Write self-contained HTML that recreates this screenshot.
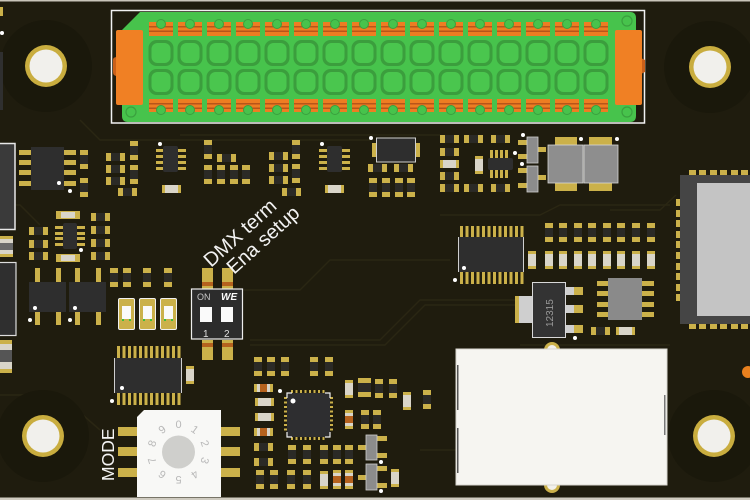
<!DOCTYPE html>
<html><head><meta charset="utf-8"><style>
html,body{margin:0;padding:0;background:#1f1c0e;width:750px;height:500px;overflow:hidden}
svg{display:block}
text{font-family:"Liberation Sans",sans-serif}
</style></head><body>
<svg width="750" height="500" viewBox="0 0 750 500" xmlns="http://www.w3.org/2000/svg">
<defs>
<g id="rh"><rect width="19" height="8" fill="#cbb14a"/><rect x="5" width="9" height="8" fill="#2b2a26"/></g>
<g id="rv"><rect width="8" height="19" fill="#cbb14a"/><rect y="5" width="8" height="9" fill="#2b2a26"/></g>
<g id="ch"><rect width="19" height="8" fill="#cbb14a"/><rect x="3" width="13" height="8" fill="#d9d5c9"/></g>
<g id="cv"><rect width="8" height="18" fill="#cbb14a"/><rect y="3" width="8" height="12" fill="#d9d5c9"/></g>
<g id="bh"><rect width="19" height="8" fill="#cbb14a"/><rect x="3" width="13" height="8" fill="#d9d5c9"/><rect x="6" width="7" height="8" fill="#b5621e"/></g>
<g id="bv"><rect width="8" height="19" fill="#cbb14a"/><rect y="3" width="8" height="13" fill="#d9d5c9"/><rect y="6" width="8" height="7" fill="#b5621e"/></g>
<g id="col">
<rect x="-12" y="22" width="24" height="14" fill="#ee7d22"/>
<rect x="-12" y="26" width="24" height="1.5" fill="#b8551a"/>
<rect x="-12" y="30.5" width="24" height="1.5" fill="#b8551a"/>
<circle cx="0" cy="24" r="4.5" fill="#47c34c" stroke="#3aa03e" stroke-width="1"/>
<rect x="-12.5" y="40" width="25" height="26" rx="8" fill="#3b9e3d"/>
<rect x="-9.5" y="43" width="19" height="20" rx="6" fill="#4ac64e"/>
<rect x="-12.5" y="69" width="25" height="26" rx="8" fill="#3b9e3d"/>
<rect x="-9.5" y="72" width="19" height="20" rx="6" fill="#4ac64e"/>
<rect x="-12" y="99" width="24" height="13" fill="#ee7d22"/>
<rect x="-12" y="103" width="24" height="1.5" fill="#b8551a"/>
<rect x="-12" y="107.5" width="24" height="1.5" fill="#b8551a"/>
<circle cx="0" cy="110" r="4.5" fill="#47c34c" stroke="#3aa03e" stroke-width="1"/>
</g>
<g id="hole">
<circle r="46" fill="#1a180b"/>
<circle r="21" fill="#c9ad3f"/>
<circle r="16.5" fill="#f1f0ec"/>
</g>
</defs>

<rect width="750" height="500" fill="#1f1c0e"/>

<!-- faint traces -->
<g fill="none" stroke="#2a2613" stroke-width="1.5">
<polyline points="0,205 20,205 40,225"/>
<polyline points="180,135 440,135"/>
<polyline points="250,340 380,340 420,300 520,300"/>
<polyline points="250,345 385,345 425,305 515,305"/>
<polyline points="0,395 60,395 100,430"/>
<polyline points="420,450 456,450"/>
<polyline points="610,210 660,210 676,195"/>
<polyline points="440,215 540,215 560,205 670,205"/>
<polyline points="240,290 300,290 330,260 450,260"/>
<polyline points="80,120 100,140 370,140"/>
<polyline points="520,345 670,345"/>
</g>

<rect width="750" height="1.5" fill="#c9c5ba"/>
<rect y="497.5" width="750" height="2.5" fill="#cfcbc0"/>

<!-- mounting holes -->
<use href="#hole" x="46" y="66"/>
<use href="#hole" x="710" y="67"/>
<use href="#hole" x="43" y="436"/>
<use href="#hole" x="714" y="436"/>

<!-- connector -->
<rect x="111.5" y="10.5" width="533" height="112.5" fill="none" stroke="#f2f2f2" stroke-width="1.5"/>
<path d="M140,12 L630,12 Q636,12 636,18 L636,116 Q636,122 630,122 L128,122 Q122,122 122,116 L122,30 Z" fill="#47c34c"/>
<circle cx="131" cy="112" r="5" fill="none" stroke="#3aa03e" stroke-width="1.2"/>
<circle cx="627" cy="21" r="5" fill="none" stroke="#3aa03e" stroke-width="1.2"/>
<circle cx="627" cy="112" r="5" fill="none" stroke="#3aa03e" stroke-width="1.2"/>
<path d="M113,60 Q113,57 117,57 L117,76 Q113,76 113,72 Z" fill="#c9601a"/>
<rect x="116" y="30" width="27" height="75" rx="2" fill="#f08024"/>
<path d="M641,58 L645,60 L645,72 L641,74 Z" fill="#c9601a"/>
<rect x="615" y="30" width="27" height="75" rx="2" fill="#f08024"/>
<use href="#col" x="161"/><use href="#col" x="190"/><use href="#col" x="219"/><use href="#col" x="248"/>
<use href="#col" x="277"/><use href="#col" x="306"/><use href="#col" x="335"/><use href="#col" x="364"/>
<use href="#col" x="393"/><use href="#col" x="422"/><use href="#col" x="451"/><use href="#col" x="480"/>
<use href="#col" x="509"/><use href="#col" x="538"/><use href="#col" x="567"/><use href="#col" x="596"/>

<!-- left edge parts -->
<rect x="0" y="7" width="3" height="9" fill="#cbb14a"/>
<circle cx="2" cy="33" r="2" fill="#fff"/>
<rect x="0" y="52" width="3" height="58" fill="#2f2f2f"/>
<rect x="-2" y="143.5" width="17" height="86" fill="#3a3a3a" stroke="#e8e8e8" stroke-width="1.5"/>
<rect x="0" y="236" width="13" height="21" fill="#cbb14a"/><rect x="0" y="239" width="13" height="15" fill="#d9d5c9"/><rect x="0" y="243" width="13" height="7" fill="#6a6a6a"/>
<rect x="-2" y="262.5" width="18" height="73" fill="#2f2f2f" stroke="#dddddd" stroke-width="1.2"/>
<rect x="0" y="340" width="12" height="33" fill="#cbb14a"/><rect x="0" y="344" width="12" height="25" fill="#d9d5c9"/><rect x="0" y="350" width="12" height="12" fill="#555"/>

<!-- SOIC8 left -->
<g fill="#cbb14a">
<rect x="19" y="150" width="12" height="5"/><rect x="19" y="160" width="12" height="5"/><rect x="19" y="170" width="12" height="5"/><rect x="19" y="181" width="12" height="5"/>
<rect x="63" y="150" width="13" height="5"/><rect x="63" y="160" width="13" height="5"/><rect x="63" y="170" width="13" height="5"/><rect x="63" y="181" width="13" height="5"/>
</g>
<rect x="31" y="147" width="33" height="43" fill="#2e2e2e"/>
<circle cx="59" cy="183" r="2" fill="#fff"/><circle cx="70" cy="191" r="2" fill="#fff"/>
<use href="#rv" x="80" y="150"/><use href="#rv" x="80" y="178"/>
<use href="#rh" x="106" y="153"/><use href="#rh" x="106" y="165"/><use href="#rh" x="106" y="177"/>
<use href="#rv" x="130" y="141"/><use href="#rv" x="130" y="165"/>
<use href="#rh" x="118" y="188"/>

<!-- small IC 1 -->
<g fill="#cbb14a">
<rect x="156" y="149" width="7" height="3"/><rect x="156" y="155" width="7" height="3"/><rect x="156" y="161" width="7" height="3"/><rect x="156" y="167" width="7" height="3"/>
<rect x="178" y="149" width="8" height="3"/><rect x="178" y="155" width="8" height="3"/><rect x="178" y="161" width="8" height="3"/><rect x="178" y="167" width="8" height="3"/>
</g>
<rect x="163" y="146" width="15" height="26" rx="2" fill="#2e2e2e"/>
<circle cx="160" cy="144" r="2" fill="#fff"/>
<use href="#ch" x="162" y="185"/>

<use href="#rv" x="204" y="140"/>
<use href="#rh" x="217" y="154"/>
<use href="#rv" x="204" y="165"/><use href="#rv" x="217" y="165"/><use href="#rv" x="230" y="165"/><use href="#rv" x="242" y="165"/>

<use href="#rh" x="269" y="152"/><use href="#rh" x="269" y="164"/><use href="#rh" x="269" y="176"/>
<use href="#rv" x="292" y="140"/><use href="#rv" x="292" y="164"/>
<use href="#rh" x="282" y="188"/>

<!-- small IC 2 -->
<g fill="#cbb14a">
<rect x="319" y="149" width="8" height="3"/><rect x="319" y="155" width="8" height="3"/><rect x="319" y="161" width="8" height="3"/><rect x="319" y="167" width="8" height="3"/>
<rect x="341" y="149" width="9" height="3"/><rect x="341" y="155" width="9" height="3"/><rect x="341" y="161" width="9" height="3"/><rect x="341" y="167" width="9" height="3"/>
</g>
<rect x="327" y="146" width="15" height="26" rx="2" fill="#2e2e2e"/>
<circle cx="322" cy="144" r="2" fill="#fff"/>
<use href="#ch" x="325" y="185"/>

<!-- right-of-center top group -->
<rect x="372" y="143" width="6" height="14" fill="#cbb14a"/><rect x="414" y="143" width="6" height="14" fill="#cbb14a"/>
<rect x="376.5" y="138" width="39" height="24" fill="#2e2e2e" stroke="#cfcfcf" stroke-width="1"/>
<circle cx="371" cy="138" r="2" fill="#fff"/>
<use href="#rh" x="368" y="164"/><use href="#rh" x="394" y="164"/>
<use href="#rv" x="369" y="178"/><use href="#rv" x="382" y="178"/><use href="#rv" x="395" y="178"/><use href="#rv" x="407" y="178"/>

<use href="#rh" x="440" y="135"/><use href="#rh" x="464" y="135"/><use href="#rh" x="491" y="135"/>
<use href="#rh" x="440" y="148"/>
<use href="#ch" x="440" y="160"/>
<use href="#rh" x="440" y="172"/>
<use href="#rh" x="440" y="184"/><use href="#rh" x="464" y="184"/><use href="#rh" x="491" y="184"/>
<use href="#cv" x="475" y="156"/>
<g fill="#cbb14a">
<rect x="490" y="150" width="3" height="8"/><rect x="495" y="150" width="3" height="8"/><rect x="500" y="150" width="3" height="8"/><rect x="505" y="150" width="3" height="8"/>
<rect x="490" y="170" width="3" height="8"/><rect x="495" y="170" width="3" height="8"/><rect x="500" y="170" width="3" height="8"/><rect x="505" y="170" width="3" height="8"/>
</g>
<rect x="488" y="158" width="25" height="12" rx="2" fill="#2e2e2e"/>
<circle cx="515" cy="153" r="2" fill="#fff"/>

<!-- SOT-23 gray -->
<g fill="#cbb14a">
<rect x="518" y="140" width="10" height="5"/><rect x="518" y="154" width="10" height="5"/><rect x="537" y="147" width="9" height="5"/>
<rect x="518" y="168" width="10" height="5"/><rect x="518" y="183" width="10" height="5"/><rect x="537" y="175" width="9" height="5"/>
</g>
<rect x="527" y="137" width="11" height="26" fill="#8c8c8c" stroke="#cfcfcf" stroke-width="0.8"/>
<rect x="527" y="166" width="11" height="26" fill="#8c8c8c" stroke="#cfcfcf" stroke-width="0.8"/>
<circle cx="523" cy="135" r="2" fill="#fff"/><circle cx="522" cy="164" r="2" fill="#fff"/>

<!-- inductors -->
<g fill="#cbb14a">
<rect x="555" y="137" width="22" height="9"/><rect x="555" y="182" width="22" height="9"/>
<rect x="589" y="137" width="23" height="9"/><rect x="589" y="182" width="23" height="9"/>
</g>
<rect x="548" y="145" width="35" height="38" fill="#8e8e8e" stroke="#d8d8d8" stroke-width="0.8"/>
<rect x="584" y="145" width="34" height="38" fill="#8e8e8e" stroke="#d8d8d8" stroke-width="0.8"/>
<circle cx="581" cy="139" r="2" fill="#fff"/><circle cx="617" cy="139" r="2" fill="#fff"/>

<!-- module -->
<g fill="#cbb14a">
<rect x="689" y="170" width="7" height="5"/><rect x="699" y="170" width="7" height="5"/><rect x="710" y="170" width="7" height="5"/><rect x="720" y="170" width="7" height="5"/><rect x="731" y="170" width="7" height="5"/><rect x="741" y="170" width="7" height="5"/>
<rect x="689" y="324" width="7" height="5"/><rect x="699" y="324" width="7" height="5"/><rect x="710" y="324" width="7" height="5"/><rect x="720" y="324" width="7" height="5"/><rect x="731" y="324" width="7" height="5"/><rect x="741" y="324" width="7" height="5"/>
<rect x="676" y="199" width="5" height="7"/><rect x="676" y="210" width="5" height="7"/><rect x="676" y="220" width="5" height="7"/><rect x="676" y="231" width="5" height="7"/><rect x="676" y="241" width="5" height="7"/>
<rect x="676" y="252" width="5" height="7"/><rect x="676" y="263" width="5" height="7"/><rect x="676" y="273" width="5" height="7"/><rect x="676" y="284" width="5" height="7"/><rect x="676" y="294" width="5" height="7"/>
</g>
<rect x="680" y="175" width="72" height="149" fill="#454545"/>
<rect x="697" y="183" width="55" height="133" fill="#c4c4c4"/>
<use href="#rv" x="647" y="223"/>
<use href="#cv" x="647" y="251"/>

<!-- right TSSOP -->
<g fill="#cbb14a">
<rect x="460" y="226" width="3" height="12"/><rect x="465.5" y="226" width="3" height="12"/><rect x="471" y="226" width="3" height="12"/><rect x="476.5" y="226" width="3" height="12"/><rect x="482" y="226" width="3" height="12"/><rect x="487.5" y="226" width="3" height="12"/>
<rect x="493" y="226" width="3" height="12"/><rect x="498.5" y="226" width="3" height="12"/><rect x="504" y="226" width="3" height="12"/><rect x="509.5" y="226" width="3" height="12"/><rect x="515" y="226" width="3" height="12"/><rect x="520.5" y="226" width="3" height="12"/>
<rect x="460" y="272" width="3" height="12"/><rect x="465.5" y="272" width="3" height="12"/><rect x="471" y="272" width="3" height="12"/><rect x="476.5" y="272" width="3" height="12"/><rect x="482" y="272" width="3" height="12"/><rect x="487.5" y="272" width="3" height="12"/>
<rect x="493" y="272" width="3" height="12"/><rect x="498.5" y="272" width="3" height="12"/><rect x="504" y="272" width="3" height="12"/><rect x="509.5" y="272" width="3" height="12"/><rect x="515" y="272" width="3" height="12"/><rect x="520.5" y="272" width="3" height="12"/>
</g>
<rect x="458" y="237" width="66" height="35" fill="#2e2e2e"/>
<rect x="458" y="237" width="1" height="35" fill="#cfcfcf"/><rect x="523" y="237" width="1" height="35" fill="#cfcfcf"/>
<circle cx="464" cy="268" r="2" fill="#fff"/><circle cx="455" cy="280" r="2" fill="#fff"/>
<use href="#cv" x="528" y="251"/>
<use href="#rv" x="545" y="223"/><use href="#rv" x="559" y="223"/><use href="#rv" x="574" y="223"/><use href="#rv" x="588" y="223"/><use href="#rv" x="603" y="223"/><use href="#rv" x="617" y="223"/><use href="#rv" x="632" y="223"/>
<use href="#cv" x="545" y="251"/><use href="#cv" x="559" y="251"/><use href="#cv" x="574" y="251"/><use href="#cv" x="588" y="251"/><use href="#cv" x="603" y="251"/><use href="#cv" x="617" y="251"/><use href="#cv" x="632" y="251"/>

<!-- SOT-223 -->
<rect x="515" y="296" width="19" height="27" fill="#cbb14a"/><rect x="519" y="296" width="14" height="27" fill="#cfcfcf"/>
<g fill="#cbb14a"><rect x="563" y="287" width="20" height="8"/><rect x="563" y="305" width="20" height="8"/><rect x="563" y="325" width="20" height="8"/></g>
<g fill="#cfcfcf"><rect x="563" y="287" width="11" height="8"/><rect x="563" y="305" width="11" height="8"/><rect x="563" y="325" width="11" height="8"/></g>
<rect x="532.5" y="282.5" width="33" height="55" fill="#333" stroke="#d8d8d8" stroke-width="1"/>
<text transform="translate(553,327) rotate(-90)" font-size="10" fill="#9a9a9a">12315</text>
<circle cx="575" cy="338" r="2" fill="#fff"/>

<!-- SOIC8 gray -->
<g fill="#cbb14a">
<rect x="597" y="281" width="13" height="5"/><rect x="597" y="291" width="13" height="5"/><rect x="597" y="302" width="13" height="5"/><rect x="597" y="312" width="13" height="5"/>
<rect x="641" y="281" width="13" height="5"/><rect x="641" y="291" width="13" height="5"/><rect x="641" y="302" width="13" height="5"/><rect x="641" y="312" width="13" height="5"/>
</g>
<rect x="608" y="278" width="34" height="42" fill="#8a8a8a"/>
<use href="#rh" x="591" y="327"/><use href="#ch" x="616" y="327"/>

<!-- shield box -->
<circle cx="552" cy="350" r="8" fill="#cbb14a"/><circle cx="552" cy="350" r="5" fill="#f1f0ec"/>
<circle cx="552" cy="485" r="8" fill="#cbb14a"/><circle cx="552" cy="485" r="5" fill="#f1f0ec"/>
<rect x="456" y="349" width="211" height="136" fill="#f6f5f1" stroke="#d8d6d0" stroke-width="1"/>
<rect x="457" y="365" width="1.5" height="45" fill="#555"/><rect x="457" y="428" width="1.5" height="45" fill="#555"/>
<rect x="664" y="395" width="1.5" height="40" fill="#777"/>
<circle cx="748" cy="372" r="6" fill="#e8801e"/>

<!-- lower-left ICs -->
<g fill="#cbb14a">
<rect x="56" y="211" width="24" height="8"/><rect x="56" y="254" width="24" height="8"/>
</g>
<rect x="61" y="212" width="14" height="6" fill="#d9d5c9"/><rect x="61" y="255" width="14" height="6" fill="#d9d5c9"/>
<g fill="#cbb14a">
<rect x="55" y="226" width="8" height="3"/><rect x="55" y="232" width="8" height="3"/><rect x="55" y="237" width="8" height="3"/><rect x="55" y="243" width="8" height="3"/>
<rect x="77" y="226" width="8" height="3"/><rect x="77" y="232" width="8" height="3"/><rect x="77" y="237" width="8" height="3"/><rect x="77" y="243" width="8" height="3"/>
</g>
<rect x="63" y="223" width="14" height="26" rx="2" fill="#2e2e2e"/>
<circle cx="81" cy="250" r="2" fill="#fff"/>
<use href="#rh" x="29" y="227"/><use href="#rh" x="29" y="240"/><use href="#rh" x="29" y="252"/>
<use href="#rh" x="91" y="213"/><use href="#rh" x="91" y="226"/><use href="#rh" x="91" y="239"/><use href="#rh" x="91" y="252"/>

<g fill="#cbb14a">
<rect x="35" y="268" width="5" height="14"/><rect x="56" y="268" width="5" height="14"/><rect x="35" y="312" width="5" height="13"/><rect x="56" y="312" width="5" height="13"/>
<rect x="75" y="268" width="5" height="14"/><rect x="96" y="268" width="5" height="14"/><rect x="75" y="312" width="5" height="13"/><rect x="96" y="312" width="5" height="13"/>
</g>
<rect x="29" y="282" width="37" height="30" fill="#2e2e2e"/>
<rect x="69" y="282" width="37" height="30" fill="#2e2e2e"/>
<circle cx="35" cy="308" r="2" fill="#fff"/><circle cx="30" cy="320" r="2" fill="#fff"/>
<circle cx="75" cy="308" r="2" fill="#fff"/><circle cx="70" cy="320" r="2" fill="#fff"/>
<use href="#rv" x="110" y="268"/><use href="#rv" x="123" y="268"/><use href="#rv" x="143" y="268"/><use href="#rv" x="164" y="268"/>

<!-- LEDs -->
<g>
<rect x="118.5" y="298.5" width="16" height="31" rx="1.5" fill="#cbb14a" stroke="#f0f0f0" stroke-width="1"/>
<rect x="122" y="306" width="9" height="13" fill="#fafafa"/>
<rect x="139.5" y="298.5" width="16" height="31" rx="1.5" fill="#cbb14a" stroke="#f0f0f0" stroke-width="1"/>
<rect x="143" y="306" width="9" height="13" fill="#fafafa"/>
<rect x="160.5" y="298.5" width="16" height="31" rx="1.5" fill="#cbb14a" stroke="#f0f0f0" stroke-width="1"/>
<rect x="164" y="306" width="9" height="13" fill="#fafafa"/>
<g fill="#3bbf3b"><rect x="122" y="319" width="2" height="2"/><rect x="129" y="319" width="2" height="2"/><rect x="143" y="319" width="2" height="2"/><rect x="150" y="319" width="2" height="2"/><rect x="164" y="319" width="2" height="2"/><rect x="171" y="319" width="2" height="2"/></g>
</g>

<!-- DIP switch -->
<g fill="#cbb14a">
<rect x="202" y="268" width="11" height="21"/><rect x="222" y="268" width="11" height="21"/>
<rect x="202" y="340" width="11" height="20"/><rect x="222" y="340" width="11" height="20"/>
</g>
<g fill="#b5621e"><rect x="202" y="282" width="11" height="4"/><rect x="222" y="282" width="11" height="4"/><rect x="202" y="343" width="11" height="4"/><rect x="222" y="343" width="11" height="4"/></g>
<rect x="191.5" y="289" width="51" height="50" fill="#2c2c2c" stroke="#eeeeee" stroke-width="1.2"/>
<text x="197" y="300" font-size="9" fill="#c8c8c8">ON</text>
<text x="221" y="300" font-size="10" font-weight="bold" font-style="italic" fill="#fafafa">WE</text>
<rect x="200" y="307" width="12" height="15" fill="#fafafa"/>
<rect x="221" y="307" width="12" height="15" fill="#fafafa"/>
<text x="203" y="337" font-size="10" fill="#e0e0e0">1</text>
<text x="224" y="337" font-size="10" fill="#e0e0e0">2</text>

<text transform="translate(211,268) rotate(-42)" font-size="20" fill="#f2f2f2">DMX term</text>
<text transform="translate(234,275) rotate(-42)" font-size="20" fill="#f2f2f2">Ena setup</text>

<!-- TSSOP left -->
<g fill="#cbb14a">
<rect x="117" y="346" width="3" height="12"/><rect x="122.5" y="346" width="3" height="12"/><rect x="128" y="346" width="3" height="12"/><rect x="133.5" y="346" width="3" height="12"/><rect x="139" y="346" width="3" height="12"/><rect x="144.5" y="346" width="3" height="12"/>
<rect x="150" y="346" width="3" height="12"/><rect x="155.5" y="346" width="3" height="12"/><rect x="161" y="346" width="3" height="12"/><rect x="166.5" y="346" width="3" height="12"/><rect x="172" y="346" width="3" height="12"/><rect x="177.5" y="346" width="3" height="12"/>
<rect x="117" y="393" width="3" height="12"/><rect x="122.5" y="393" width="3" height="12"/><rect x="128" y="393" width="3" height="12"/><rect x="133.5" y="393" width="3" height="12"/><rect x="139" y="393" width="3" height="12"/><rect x="144.5" y="393" width="3" height="12"/>
<rect x="150" y="393" width="3" height="12"/><rect x="155.5" y="393" width="3" height="12"/><rect x="161" y="393" width="3" height="12"/><rect x="166.5" y="393" width="3" height="12"/><rect x="172" y="393" width="3" height="12"/><rect x="177.5" y="393" width="3" height="12"/>
</g>
<rect x="114" y="358" width="68" height="35" fill="#2e2e2e"/>
<rect x="114" y="358" width="1" height="35" fill="#cfcfcf"/><rect x="181" y="358" width="1" height="35" fill="#cfcfcf"/>
<circle cx="122" cy="388" r="2" fill="#fff"/><circle cx="112" cy="401" r="2" fill="#fff"/>
<use href="#cv" x="186" y="366"/>

<!-- rotary switch -->
<g fill="#cbb14a">
<rect x="118" y="427" width="20" height="9"/><rect x="118" y="447" width="20" height="9"/><rect x="118" y="468" width="20" height="9"/>
<rect x="221" y="427" width="19" height="9"/><rect x="221" y="447" width="19" height="9"/><rect x="221" y="468" width="19" height="9"/>
</g>
<path d="M144,410 L221,410 L221,497 L137,497 L137,417 Z" fill="#f8f8f6"/>
<circle cx="178.5" cy="452" r="16.5" fill="#cfcfcc"/>
<g font-size="11" fill="#b8b8b8" text-anchor="middle">
<text x="178.5" y="428" transform="rotate(0,178.5,452)">0</text>
<text x="178.5" y="428" transform="rotate(36,178.5,452)">1</text>
<text x="178.5" y="428" transform="rotate(72,178.5,452)">2</text>
<text x="178.5" y="428" transform="rotate(108,178.5,452)">3</text>
<text x="178.5" y="428" transform="rotate(144,178.5,452)">4</text>
<text x="178.5" y="428" transform="rotate(180,178.5,452)">5</text>
<text x="178.5" y="428" transform="rotate(216,178.5,452)">6</text>
<text x="178.5" y="428" transform="rotate(252,178.5,452)">7</text>
<text x="178.5" y="428" transform="rotate(288,178.5,452)">8</text>
<text x="178.5" y="428" transform="rotate(324,178.5,452)">9</text>
</g>
<text transform="translate(114,481) rotate(-90)" font-size="17.5" fill="#f4f4f4">MODE</text>

<!-- QFN area -->
<use href="#rv" x="254" y="357"/><use href="#rv" x="267" y="357"/><use href="#rv" x="281" y="357"/><use href="#rv" x="310" y="357"/><use href="#rv" x="325" y="357"/>
<use href="#bh" x="254" y="384"/>
<use href="#ch" x="255" y="398"/><use href="#ch" x="255" y="413"/>
<use href="#bh" x="254" y="428"/>
<use href="#rh" x="254" y="443"/><use href="#rh" x="254" y="458"/>
<g fill="#cbb14a">
<rect x="291" y="390" width="2" height="3"/><rect x="295.5" y="390" width="2" height="3"/><rect x="300" y="390" width="2" height="3"/><rect x="304.5" y="390" width="2" height="3"/><rect x="309" y="390" width="2" height="3"/><rect x="313.5" y="390" width="2" height="3"/><rect x="318" y="390" width="2" height="3"/><rect x="322.5" y="390" width="2" height="3"/>
<rect x="291" y="437" width="2" height="3"/><rect x="295.5" y="437" width="2" height="3"/><rect x="300" y="437" width="2" height="3"/><rect x="304.5" y="437" width="2" height="3"/><rect x="309" y="437" width="2" height="3"/><rect x="313.5" y="437" width="2" height="3"/><rect x="318" y="437" width="2" height="3"/><rect x="322.5" y="437" width="2" height="3"/>
<rect x="284" y="397" width="3" height="2"/><rect x="284" y="401.5" width="3" height="2"/><rect x="284" y="406" width="3" height="2"/><rect x="284" y="410.5" width="3" height="2"/><rect x="284" y="415" width="3" height="2"/><rect x="284" y="419.5" width="3" height="2"/><rect x="284" y="424" width="3" height="2"/><rect x="284" y="428.5" width="3" height="2"/>
<rect x="330" y="397" width="3" height="2"/><rect x="330" y="401.5" width="3" height="2"/><rect x="330" y="406" width="3" height="2"/><rect x="330" y="410.5" width="3" height="2"/><rect x="330" y="415" width="3" height="2"/><rect x="330" y="419.5" width="3" height="2"/><rect x="330" y="424" width="3" height="2"/><rect x="330" y="428.5" width="3" height="2"/>
</g>
<rect x="287" y="393" width="43" height="44" fill="#2e2e30"/>
<path d="M287,398 L287,393 L292,393 M325,393 L330,393 L330,398 M330,432 L330,437 L325,437 M292,437 L287,437 L287,432" fill="none" stroke="#f0f0f0" stroke-width="1.2"/>
<circle cx="293" cy="401" r="2.5" fill="#fff"/><circle cx="280" cy="391" r="2" fill="#fff"/>
<use href="#rv" x="288" y="445"/><use href="#rv" x="303" y="445"/><use href="#rv" x="320" y="445"/><use href="#rv" x="333" y="445"/><use href="#rv" x="345" y="445"/>
<use href="#rv" x="256" y="470"/><use href="#rv" x="270" y="470"/><use href="#rv" x="287" y="470"/><use href="#rv" x="303" y="470"/>
<use href="#cv" x="320" y="471"/><use href="#bv" x="333" y="470"/><use href="#bv" x="345" y="470"/>

<use href="#cv" x="345" y="380"/>
<rect x="358" y="378" width="13" height="19" fill="#cbb14a"/><rect x="358" y="383" width="13" height="9" fill="#2b2a26"/>
<use href="#rv" x="375" y="379"/><use href="#rv" x="389" y="379"/>
<use href="#cv" x="403" y="392"/>
<use href="#rv" x="423" y="390"/>
<use href="#bv" x="345" y="410"/>
<use href="#rv" x="361" y="410"/><use href="#rv" x="373" y="410"/>

<!-- SOT-23 bottom -->
<g fill="#cbb14a">
<rect x="358" y="445" width="9" height="5"/><rect x="376" y="436" width="11" height="5"/><rect x="376" y="453" width="11" height="5"/>
<rect x="358" y="475" width="9" height="5"/><rect x="376" y="466" width="11" height="5"/><rect x="376" y="483" width="11" height="5"/>
</g>
<rect x="366" y="435" width="11" height="25" fill="#8c8c8c" stroke="#cfcfcf" stroke-width="0.8"/>
<rect x="366" y="464" width="11" height="26" fill="#8c8c8c" stroke="#cfcfcf" stroke-width="0.8"/>
<circle cx="381" cy="462" r="2" fill="#fff"/><circle cx="381" cy="491" r="2" fill="#fff"/>
<use href="#cv" x="391" y="469"/>
</svg>
</body></html>
